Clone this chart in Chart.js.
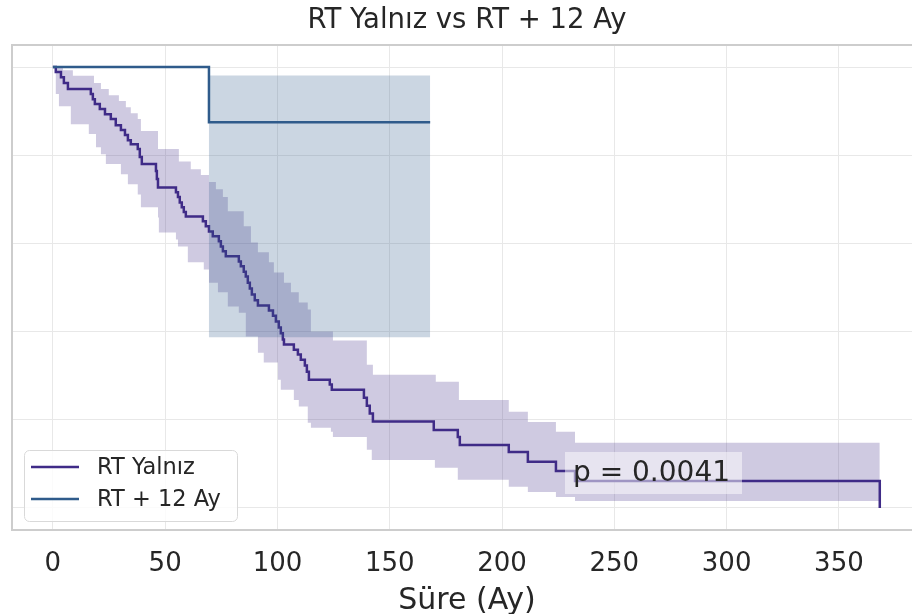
<!DOCTYPE html>
<html>
<head>
<meta charset="utf-8">
<script src="https://cdn.jsdelivr.net/npm/chart.js@4.4.1/dist/chart.umd.min.js"></script>
<style>
  html, body { margin: 0; padding: 0; background: #ffffff; overflow: hidden; }
  /* the axes run on past the right edge of the visible frame */
  #frame { width: 912px; height: 614px; overflow: hidden; position: relative; }
  canvas { display: block; }
</style>
</head>
<body>
<div id="frame"><canvas id="km" width="922" height="614"></canvas></div>
<script>
// ---- labels ----
const chartTitle = 'RT Yalnız vs RT + 12 Ay';
const xAxisTitle = 'Süre (Ay)';
const seriesNames = ['RT Yalnız', 'RT + 12 Ay'];
const pValueText = 'p = 0.0041';
const xTickValues = [0, 50, 100, 150, 200, 250, 300, 350];
const yGridValues = [0, 0.2, 0.4, 0.6, 0.8, 1.0];

// ---- RT Yalnız: Kaplan-Meier estimate (months, survival) ----
const rtTimes = [0, 1.3, 3.6, 4.9, 6.7, 16.9, 17.8, 18.7, 20.9, 23.2, 25.8, 28.0, 30.3, 32.1, 33.4, 34.7,
  37.8, 38.7, 39.6, 45.9, 46.3, 46.8, 54.8, 55.7, 56.5, 57.4, 58.3, 59.2, 66.8, 68.1, 69.5, 71.2,
  73.9, 74.8, 75.7, 77.0, 82.8, 83.7, 85.0, 85.9, 86.8, 87.7, 88.6, 89.9, 91.3, 96.2, 98.0, 99.3,
  100.6, 101.5, 102.4, 102.9, 107.3, 109.1, 110.4, 112.2, 113.1, 114.0, 123.3, 124.2, 138.5, 139.8,
  141.1, 142.5, 169.6, 180.3, 181.2, 203.0, 211.5, 224.0, 232.5, 368.2];
const rtSurv = [1, 0.989, 0.977, 0.964, 0.950, 0.939, 0.927, 0.916, 0.905, 0.893, 0.882, 0.868, 0.857, 0.846, 0.834, 0.825,
  0.814, 0.796, 0.780, 0.764, 0.746, 0.727, 0.716, 0.705, 0.693, 0.682, 0.671, 0.661, 0.650, 0.639, 0.627, 0.616,
  0.605, 0.593, 0.582, 0.571, 0.559, 0.548, 0.536, 0.525, 0.511, 0.498, 0.484, 0.471, 0.459, 0.448, 0.436, 0.423,
  0.409, 0.396, 0.382, 0.371, 0.359, 0.348, 0.336, 0.323, 0.309, 0.291, 0.280, 0.268, 0.250, 0.232,
  0.214, 0.196, 0.177, 0.161, 0.143, 0.127, 0.105, 0.084, 0.061, 0];

// 95% confidence band, upper edge
const rtUpperTimes = [0, 4.5, 8.9, 18.3, 21.4, 24.9, 29.4, 32.5, 34.7, 37.8, 39.2, 46.8, 56.1, 61.4, 65.9, 69.5,
  72.6, 75.7, 77.9, 85.0, 88.2, 91.3, 96.2, 98.4, 102.9, 106.0, 109.5, 113.5, 114.9, 124.7, 139.8, 142.5,
  170.5, 180.8, 203.0, 211.5, 224.0, 232.5, 368.2];
const rtUpperVals = [1, 0.993, 0.980, 0.964, 0.950, 0.936, 0.923, 0.909, 0.895, 0.882, 0.855, 0.814, 0.786, 0.768, 0.755, 0.739,
  0.723, 0.705, 0.673, 0.639, 0.602, 0.580, 0.557, 0.534, 0.511, 0.489, 0.466, 0.450, 0.400, 0.380, 0.325, 0.302,
  0.286, 0.245, 0.218, 0.195, 0.173, 0.148, 0.148];

// 95% confidence band, lower edge
const rtLowerTimes = [0, 1.3, 2.7, 8.0, 16.0, 19.2, 21.4, 23.6, 30.3, 33.4, 37.8, 39.2, 46.8, 47.2, 54.8, 55.7,
  60.1, 67.2, 69.5, 73.5, 77.9, 82.8, 85.9, 91.3, 93.9, 100.2, 101.5, 107.3, 109.5, 113.5, 114.9, 123.8,
  124.7, 139.8, 142.0, 170.1, 180.3, 203.0, 211.5, 224.0, 232.5, 368.2];
const rtLowerVals = [1, 0.939, 0.911, 0.870, 0.848, 0.818, 0.802, 0.780, 0.757, 0.734, 0.711, 0.682, 0.659, 0.625, 0.609, 0.593,
  0.557, 0.541, 0.511, 0.489, 0.457, 0.443, 0.389, 0.352, 0.330, 0.291, 0.268, 0.245, 0.230, 0.193, 0.182, 0.173,
  0.161, 0.132, 0.109, 0.091, 0.064, 0.048, 0.036, 0.025, 0.016, 0.016];

// ---- RT + 12 Ay ----
const comboTimes = [0, 69.5, 168.0];
const comboSurv = [1, 0.875, 0.875];
const comboUpper = [1, 0.981, 0.981];
const comboLower = [1, 0.387, 0.387];

// ---- colours ----
const purple = '#3f2b87';
const purpleFill = 'rgba(63, 43, 135, 0.25)';
const steel = '#2f5b8b';
const steelFill = 'rgba(47, 91, 139, 0.25)';
const textColor = '#262626';
const gridColor = '#e8e8e8';
const frameColor = '#cdcdcd';
const FONT = "'DejaVu Sans', 'Liberation Sans', sans-serif";

const toPoints = (ts, vs) => ts.map((t, i) => ({ x: t, y: vs[i] }));

const bandEdge = (label, ts, vs, fill, order, color) => ({
  label, data: toPoints(ts, vs), stepped: true, borderWidth: 0, pointRadius: 0,
  borderColor: 'rgba(0,0,0,0)', backgroundColor: color, fill, order
});

// Left, top and bottom spines of the axes frame
const axesFrame = {
  id: 'axesFrame',
  afterDatasetsDraw(chart) {
    const { ctx, chartArea: a } = chart;
    ctx.save();
    ctx.strokeStyle = frameColor;
    ctx.lineWidth = 2;
    ctx.beginPath();
    ctx.moveTo(a.right + 2, a.top);
    ctx.lineTo(a.left, a.top);
    ctx.lineTo(a.left, a.bottom);
    ctx.lineTo(a.right + 2, a.bottom);
    ctx.stroke();
    ctx.beginPath();
    ctx.restore();
  }
};

function roundRectPath(ctx, x, y, w, h, r) {
  ctx.beginPath();
  ctx.moveTo(x + r, y);
  ctx.arcTo(x + w, y, x + w, y + h, r);
  ctx.arcTo(x + w, y + h, x, y + h, r);
  ctx.arcTo(x, y + h, x, y, r);
  ctx.arcTo(x, y, x + w, y, r);
  ctx.closePath();
}

// Legend box in the lower-left corner and the p-value label
const overlays = {
  id: 'overlays',
  afterDraw(chart) {
    const { ctx } = chart;
    ctx.save();
    // p-value box
    ctx.fillStyle = 'rgba(255,255,255,0.5)';
    ctx.fillRect(565, 452, 177, 42);
    ctx.fillStyle = textColor;
    ctx.font = `28px ${FONT}`;
    ctx.textBaseline = 'middle';
    ctx.textAlign = 'left';
    ctx.fillText(pValueText, 573, 474);

    // legend
    roundRectPath(ctx, 24.5, 450.5, 213, 71, 5);
    ctx.fillStyle = 'rgba(255,255,255,0.8)';
    ctx.fill();
    ctx.strokeStyle = '#d9d9d9';
    ctx.lineWidth = 1;
    ctx.stroke();
    const rows = [[seriesNames[0], purple, 467], [seriesNames[1], steel, 499]];
    ctx.font = `22.5px ${FONT}`;
    rows.forEach(([name, col, y]) => {
      ctx.strokeStyle = col;
      ctx.lineWidth = 2.5;
      ctx.beginPath();
      ctx.moveTo(31, y);
      ctx.lineTo(79, y);
      ctx.stroke();
      ctx.fillStyle = textColor;
      ctx.fillText(name, 97, y + 1);
    });
    ctx.beginPath();
    ctx.restore();
  }
};

new Chart(document.getElementById('km'), {
  type: 'line',
  data: {
    datasets: [
      bandEdge('rt-upper', rtUpperTimes, rtUpperVals, { target: 1 }, 6, purpleFill),
      bandEdge('rt-lower', rtLowerTimes, rtLowerVals, false, 6, 'rgba(0,0,0,0)'),
      {
        label: seriesNames[0], data: toPoints(rtTimes, rtSurv), stepped: true,
        borderColor: purple, borderWidth: 2.5, pointRadius: 0, fill: false, order: 5
      },
      bandEdge('combo-upper', comboTimes, comboUpper, { target: 4 }, 3, steelFill),
      bandEdge('combo-lower', comboTimes, comboLower, false, 3, 'rgba(0,0,0,0)'),
      {
        label: seriesNames[1], data: toPoints(comboTimes, comboSurv), stepped: true,
        borderColor: steel, borderWidth: 2.5, pointRadius: 0, fill: false, order: 1
      }
    ]
  },
  options: {
    responsive: false,
    animation: false,
    devicePixelRatio: 1,
    layout: { padding: { left: 12, right: 0, top: 0, bottom: 0 } },
    plugins: {
      legend: { display: false },
      tooltip: { enabled: false },
      title: {
        display: true, text: chartTitle, color: textColor,
        font: { family: FONT, size: 27.5, weight: 'normal', lineHeight: 1.2 },
        padding: { top: 4, bottom: 8 }
      }
    },
    scales: {
      x: {
        type: 'linear', min: -18.2, max: 387,
        afterBuildTicks: s => { s.ticks = xTickValues.map(v => ({ value: v })); },
        afterFit: s => { s.height = 84; },
        grid: { color: gridColor, lineWidth: 1, drawTicks: false },
        border: { display: false },
        ticks: {
          color: textColor, padding: 19, autoSkip: false, maxRotation: 0,
          font: { family: FONT, size: 26, lineHeight: 1.2 },
          callback: v => String(v)
        },
        title: {
          display: true, text: xAxisTitle, color: textColor,
          font: { family: FONT, size: 30, lineHeight: 0.88 },
          padding: { top: 0, bottom: 0 }
        }
      },
      y: {
        type: 'linear', min: -0.05, max: 1.05,
        afterBuildTicks: s => { s.ticks = yGridValues.map(v => ({ value: v })); },
        afterFit: s => { s.width = 0; },
        grid: { color: gridColor, lineWidth: 1, drawTicks: false },
        border: { display: false },
        ticks: { display: false }
      }
    }
  },
  plugins: [axesFrame, overlays]
});
</script>
</body>
</html>
